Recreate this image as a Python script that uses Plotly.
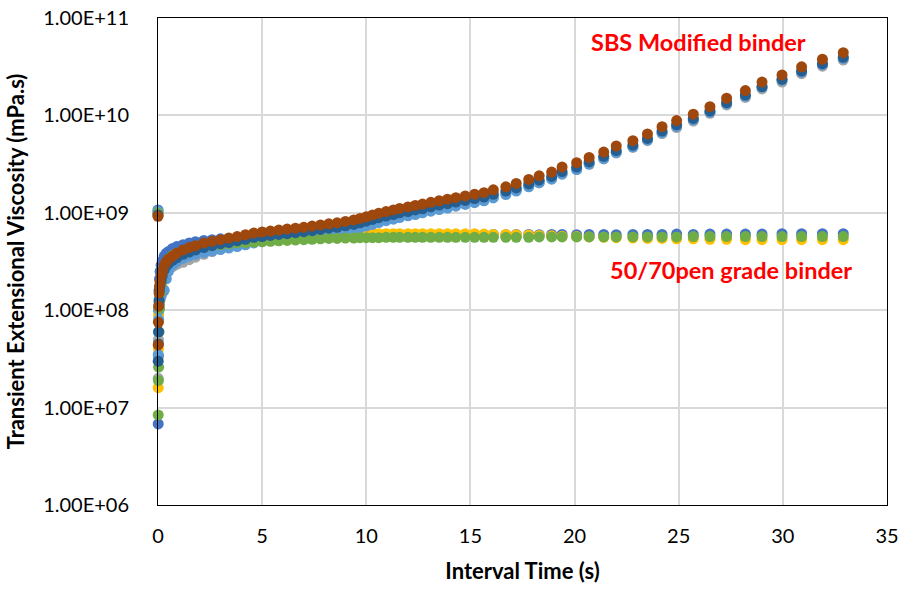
import plotly.graph_objects as go

# Interval time (s), shared by all series
time_s = [
    0, 0.01, 0.02, 0.03, 0.05, 0.07, 0.1, 0.15, 0.2, 0.3,
    0.4, 0.5, 0.7, 0.9, 1.2, 1.5, 1.8, 2.2, 2.6, 3.0,
    3.4, 3.8, 4.2, 4.6, 5.0, 5.4, 5.8, 6.2, 6.6, 7.0,
    7.4, 7.8, 8.2, 8.6, 9.0, 9.4, 9.7, 10.0, 10.3, 10.6,
    10.95, 11.3, 11.6, 12.0, 12.35, 12.7, 13.1, 13.5, 13.9, 14.3,
    14.75, 15.2, 15.65, 16.1, 16.7, 17.2, 17.8, 18.3, 18.9, 19.4,
    20.1, 20.7, 21.4, 22.0, 22.8, 23.5, 24.2, 24.9, 25.7, 26.5,
    27.3, 28.2, 29.0, 29.96, 30.9, 31.9, 32.9,
]

# 50/70 pen grade binder replicates
pen_blue = [
    1.07e9, 6.8e6, 3.4e7, 1.0e8, 1.6e8, 2.1e8, 2.5e8, 2.9e8, 3.2e8, 3.6e8,
    3.85e8, 4.0e8, 4.3e8, 4.5e8, 4.7e8, 4.9e8, 5.05e8, 5.2e8, 5.3e8, 5.4e8,
    5.45e8, 5.5e8, 5.55e8, 5.6e8, 5.65e8, 5.7e8, 5.7e8, 5.75e8, 5.75e8, 5.8e8,
    5.8e8, 5.85e8, 5.85e8, 5.85e8, 5.9e8, 5.9e8, 5.9e8, 5.9e8, 5.9e8, 5.9e8,
    5.9e8, 5.9e8, 5.95e8, 5.95e8, 5.95e8, 5.95e8, 5.95e8, 5.95e8, 5.95e8, 5.95e8,
    5.95e8, 5.95e8, 5.95e8, 6.0e8, 5.95e8, 6.0e8, 6.0e8, 5.95e8, 6.0e8, 6.0e8,
    5.95e8, 6.0e8, 6.0e8, 5.95e8, 6.0e8, 6.0e8, 6.0e8, 6.05e8, 6.0e8, 6.05e8,
    6.05e8, 6.05e8, 6.05e8, 6.1e8, 6.1e8, 6.1e8, 6.1e8,
]
pen_yellow = [
    9.8e8, 1.6e7, 4.0e7, 9.0e7, 1.05e8, 1.15e8, 1.25e8, 1.5e8, 1.75e8, 2.15e8,
    2.5e8, 2.8e8, 3.2e8, 3.5e8, 3.85e8, 4.15e8, 4.4e8, 4.65e8, 4.85e8, 5.0e8,
    5.15e8, 5.25e8, 5.35e8, 5.45e8, 5.55e8, 5.6e8, 5.7e8, 5.75e8, 5.8e8, 5.85e8,
    5.9e8, 5.95e8, 6.0e8, 6.05e8, 6.05e8, 6.1e8, 6.1e8, 6.1e8, 6.1e8, 6.1e8,
    6.1e8, 6.1e8, 6.1e8, 6.1e8, 6.1e8, 6.1e8, 6.1e8, 6.1e8, 6.1e8, 6.1e8,
    6.1e8, 6.1e8, 6.05e8, 6.0e8, 6.0e8, 5.95e8, 5.9e8, 5.85e8, 5.8e8, 5.75e8,
    5.7e8, 5.65e8, 5.6e8, 5.55e8, 5.5e8, 5.45e8, 5.45e8, 5.4e8, 5.4e8, 5.35e8,
    5.35e8, 5.3e8, 5.3e8, 5.3e8, 5.3e8, 5.3e8, 5.3e8,
]
pen_green = [
    1.0e9, 8.4e6, 1.9e7, 2.6e7, 6.0e7, 1.05e8, 1.5e8, 1.95e8, 2.3e8, 2.8e8,
    3.1e8, 3.35e8, 3.65e8, 3.85e8, 4.05e8, 4.2e8, 4.35e8, 4.5e8, 4.6e8, 4.7e8,
    4.8e8, 4.9e8, 4.95e8, 5.0e8, 5.05e8, 5.1e8, 5.15e8, 5.2e8, 5.25e8, 5.3e8,
    5.35e8, 5.4e8, 5.45e8, 5.45e8, 5.5e8, 5.5e8, 5.55e8, 5.55e8, 5.55e8, 5.55e8,
    5.6e8, 5.6e8, 5.6e8, 5.6e8, 5.6e8, 5.6e8, 5.6e8, 5.6e8, 5.6e8, 5.6e8,
    5.6e8, 5.6e8, 5.6e8, 5.6e8, 5.6e8, 5.6e8, 5.6e8, 5.65e8, 5.65e8, 5.65e8,
    5.65e8, 5.65e8, 5.65e8, 5.65e8, 5.65e8, 5.65e8, 5.65e8, 5.65e8, 5.7e8, 5.7e8,
    5.7e8, 5.7e8, 5.7e8, 5.7e8, 5.7e8, 5.7e8, 5.7e8,
]

# SBS modified binder replicates
sbs_gray = [
    9.8e8, 2.0e7, 5.0e7, 9.0e7, 1.2e8, 1.4e8, 1.6e8, 1.8e8, 2.0e8, 2.3e8,
    2.5e8, 2.6e8, 2.8e8, 2.95e8, 3.1e8, 3.3e8, 3.5e8, 3.75e8, 4.0e8, 4.25e8,
    4.5e8, 4.7e8, 4.9e8, 5.1e8, 5.25e8, 5.4e8, 5.55e8, 5.7e8, 5.85e8, 6.0e8,
    6.15e8, 6.3e8, 6.5e8, 6.7e8, 6.9e8, 7.15e8, 7.4e8, 7.7e8, 8.05e8, 8.4e8,
    8.75e8, 9.1e8, 9.4e8, 9.8e8, 1.01e9, 1.05e9, 1.09e9, 1.13e9, 1.17e9, 1.22e9,
    1.27e9, 1.32e9, 1.37e9, 1.46e9, 1.57e9, 1.7e9, 1.87e9, 2.04e9, 2.23e9, 2.5e9,
    2.78e9, 3.15e9, 3.57e9, 4.1e9, 4.7e9, 5.5e9, 6.5e9, 7.5e9, 8.75e9, 1.05e10,
    1.28e10, 1.53e10, 1.87e10, 2.2e10, 2.68e10, 3.2e10, 3.7e10,
]
sbs_lightblue = [
    1.05e9, 3.5e7, 6.0e7, 8.0e7, 1.0e8, 1.15e8, 1.3e8, 1.4e8, 1.5e8, 1.6e8,
    2.1e8, 2.5e8, 2.9e8, 3.15e8, 3.4e8, 3.6e8, 3.75e8, 3.9e8, 4.05e8, 4.2e8,
    4.35e8, 4.5e8, 4.7e8, 4.9e8, 5.05e8, 5.15e8, 5.3e8, 5.4e8, 5.55e8, 5.7e8,
    5.85e8, 6.0e8, 6.2e8, 6.35e8, 6.55e8, 6.8e8, 7.0e8, 7.3e8, 7.6e8, 7.95e8,
    8.3e8, 8.6e8, 8.95e8, 9.3e8, 9.6e8, 1.0e9, 1.04e9, 1.08e9, 1.12e9, 1.17e9,
    1.22e9, 1.27e9, 1.33e9, 1.42e9, 1.54e9, 1.67e9, 1.85e9, 2.03e9, 2.22e9, 2.5e9,
    2.78e9, 3.17e9, 3.6e9, 4.17e9, 4.75e9, 5.6e9, 6.65e9, 7.7e9, 9.0e9, 1.08e10,
    1.32e10, 1.58e10, 1.94e10, 2.3e10, 2.78e10, 3.32e10, 3.85e10,
]
sbs_darkblue = [
    9.5e8, 3.0e7, 4.5e7, 6.0e7, 1.26e8, 1.6e8, 1.8e8, 2.0e8, 2.25e8, 2.6e8,
    2.85e8, 3.0e8, 3.25e8, 3.45e8, 3.75e8, 3.95e8, 4.15e8, 4.4e8, 4.6e8, 4.8e8,
    4.95e8, 5.15e8, 5.35e8, 5.6e8, 5.7e8, 5.85e8, 6.0e8, 6.1e8, 6.25e8, 6.4e8,
    6.55e8, 6.75e8, 6.95e8, 7.1e8, 7.35e8, 7.6e8, 7.9e8, 8.2e8, 8.55e8, 8.9e8,
    9.25e8, 9.6e8, 1.0e9, 1.03e9, 1.07e9, 1.1e9, 1.15e9, 1.2e9, 1.24e9, 1.29e9,
    1.34e9, 1.4e9, 1.45e9, 1.55e9, 1.67e9, 1.8e9, 1.98e9, 2.16e9, 2.36e9, 2.65e9,
    2.95e9, 3.33e9, 3.8e9, 4.35e9, 4.95e9, 5.8e9, 6.9e9, 8.0e9, 9.3e9, 1.11e10,
    1.35e10, 1.62e10, 1.98e10, 2.35e10, 2.85e10, 3.4e10, 3.95e10,
]
sbs_brown = [
    9.2e8, 4.4e7, 7.5e7, 1.1e8, 1.5e8, 1.75e8, 1.95e8, 2.25e8, 2.5e8, 2.9e8,
    3.15e8, 3.35e8, 3.6e8, 3.85e8, 4.15e8, 4.4e8, 4.6e8, 4.9e8, 5.1e8, 5.3e8,
    5.5e8, 5.7e8, 5.95e8, 6.2e8, 6.35e8, 6.5e8, 6.65e8, 6.8e8, 6.95e8, 7.1e8,
    7.3e8, 7.5e8, 7.7e8, 7.9e8, 8.15e8, 8.45e8, 8.75e8, 9.1e8, 9.5e8, 9.9e8,
    1.03e9, 1.07e9, 1.11e9, 1.15e9, 1.19e9, 1.23e9, 1.28e9, 1.33e9, 1.38e9, 1.43e9,
    1.49e9, 1.55e9, 1.61e9, 1.72e9, 1.85e9, 2.0e9, 2.2e9, 2.4e9, 2.62e9, 2.95e9,
    3.27e9, 3.7e9, 4.2e9, 4.85e9, 5.5e9, 6.45e9, 7.65e9, 8.85e9, 1.03e10, 1.23e10,
    1.5e10, 1.8e10, 2.2e10, 2.6e10, 3.15e10, 3.77e10, 4.4e10,
]

y_tickvals = [1e6, 1e7, 1e8, 1e9, 1e10, 1e11]
y_ticktext = ["1.00E+06", "1.00E+07", "1.00E+08", "1.00E+09", "1.00E+10", "1.00E+11"]
x_tickvals = [0, 5, 10, 15, 20, 25, 30, 35]

series = [
    ("50/70 A", pen_blue, "#4472C4"),
    ("SBS A", sbs_gray, "#A5A5A5"),
    ("50/70 B", pen_yellow, "#FFC000"),
    ("SBS B", sbs_lightblue, "#5B9BD5"),
    ("50/70 C", pen_green, "#70AD47"),
    ("SBS C", sbs_darkblue, "#255E91"),
    ("SBS D", sbs_brown, "#9E480E"),
]

FONT = "Lato, Carlito, 'Open Sans', sans-serif"

fig = go.Figure()
for name, vals, col in series:
    assert len(vals) == len(time_s)
    fig.add_trace(go.Scatter(
        x=time_s, y=vals, mode="markers", name=name,
        marker=dict(size=11, color=col, line=dict(width=0)),
        showlegend=False, cliponaxis=False,
    ))

fig.update_layout(
    width=904, height=590,
    margin=dict(l=158, r=17, t=18, b=85),
    paper_bgcolor="white", plot_bgcolor="white",
    font=dict(family=FONT, size=20, color="#000000"),
)
fig.update_xaxes(
    range=[0, 35], tickvals=x_tickvals, showgrid=True,
    gridcolor="#D9D9D9", gridwidth=2, automargin=False,
    showline=True, linecolor="#000000", linewidth=1, mirror=True,
    zeroline=False, ticks="", ticklabelstandoff=13,
    tickfont=dict(family=FONT, size=20),
    title=dict(text="<b>Interval Time (s)</b>", font=dict(family=FONT, size=22), standoff=17),
)
fig.update_yaxes(
    type="log", range=[6, 11], tickvals=y_tickvals, ticktext=y_ticktext,
    showgrid=True, gridcolor="#D9D9D9", gridwidth=2, automargin=False,
    showline=True, linecolor="#000000", linewidth=1, mirror=True,
    zeroline=False, ticks="", ticklabelstandoff=24,
    tickfont=dict(family=FONT, size=20),
    title=dict(text="<b>Transient Extensional Viscosity (mPa.s)</b>",
               font=dict(family=FONT, size=22), standoff=12),
)

fig.add_annotation(
    x=25.95, y=10.755, xref="x", yref="y", text="<b>SBS Modified binder</b>",
    showarrow=False, font=dict(family=FONT, size=23.5, color="#FF0000"),
)
fig.add_annotation(
    x=27.5, y=8.41, xref="x", yref="y", text="<b>50/70pen grade binder</b>",
    showarrow=False, font=dict(family=FONT, size=23.5, color="#FF0000"),
)

fig.write_html("out.html")
